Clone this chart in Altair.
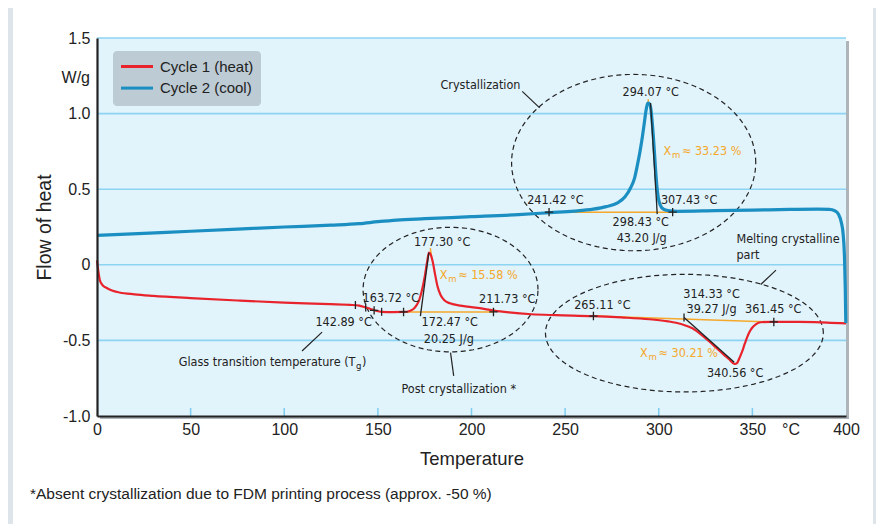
import altair as alt
import numpy as np
import pandas as pd

# ---------------- data ----------------
series_names = ["Cycle 1 (heat)", "Cycle 2 (cool)"]

heat_T = [0, 0.8, 1.6, 3, 5, 8, 12, 20, 30, 50, 75, 100, 120, 135, 140, 143, 146, 149, 152, 158,
          164, 167, 169, 170.5, 172, 173.5, 175, 176.3, 177.3, 178.3, 179.3, 180.5, 181.8, 183.5,
          185.5, 188.5, 193, 200, 206, 212, 220, 232, 245, 265, 280, 295, 305, 312, 318, 322.5,
          327, 331.4, 335, 337.6, 339.5, 340.6, 341.8, 343, 344.5, 346, 348.3, 350, 352, 354.5,
          360, 375, 390, 400]
heat_V = [0.03, -0.05, -0.105, -0.135, -0.152, -0.17, -0.183, -0.195, -0.205, -0.22, -0.236, -0.25,
          -0.258, -0.265, -0.27, -0.28, -0.292, -0.304, -0.311, -0.313, -0.312, -0.305, -0.292, -0.27,
          -0.235, -0.17, -0.08, 0.02, 0.08, 0.065, 0.02, -0.06, -0.14, -0.2, -0.235, -0.255, -0.268,
          -0.28, -0.29, -0.303, -0.315, -0.327, -0.333, -0.339, -0.348, -0.36, -0.374, -0.392, -0.42,
          -0.46, -0.507, -0.557, -0.597, -0.625, -0.648, -0.656, -0.65, -0.62, -0.575, -0.52, -0.448,
          -0.415, -0.392, -0.38, -0.377, -0.378, -0.382, -0.388]

cool_T = [0, 25, 50, 75, 100, 125, 140, 150, 160, 175, 200, 225, 242, 255, 265, 272, 278, 282, 285,
          287, 288.6, 290, 291.3, 292.3, 293.2, 294.1, 295, 295.8, 296.6, 297.5, 298.3, 299, 299.8,
          300.8, 302.5, 305, 310, 330, 350, 370, 385, 391, 394, 396, 397.5, 398.5, 399.2, 399.6, 399.9]
cool_V = [0.194, 0.208, 0.222, 0.236, 0.25, 0.262, 0.272, 0.285, 0.296, 0.305, 0.318, 0.332, 0.345,
          0.355, 0.368, 0.385, 0.41, 0.45, 0.51, 0.57, 0.66, 0.75, 0.85, 0.94, 1.02, 1.07, 1.065, 1.03,
          0.93, 0.78, 0.63, 0.52, 0.44, 0.395, 0.368, 0.358, 0.354, 0.358, 0.362, 0.366, 0.368, 0.366,
          0.358, 0.335, 0.28, 0.2, 0.05, -0.15, -0.385]

x_ticks = [0, 50, 100, 150, 200, 250, 300, 350, 400]
y_ticks = [-1.0, -0.5, 0, 0.5, 1.0, 1.5]
grid_V = [1.5, 1.0, 0.5, 0, -0.5]
inner_tick_T = [50, 100, 150, 200, 250, 300, 350]

# annotation ellipses: centre T, centre V, radius T, radius V
ell_cT = [286.6, 188.8, 313.7]
ell_cV = [0.676, -0.164, -0.452]
ell_rT = [65.2, 46.7, 74.2]
ell_rV = [0.583, 0.412, 0.389]

# orange baselines
base_T1 = [241.42, 163.72, 265.11, 294.4, 178.0]
base_V1 = [0.348, -0.312, -0.339, 1.05, 0.11]
base_T2 = [307.43, 211.73, 361.45, 294.4, 178.6]
base_V2 = [0.348, -0.312, -0.378, 1.095, 0.06]

# black tangents
tan_T1 = [295.6, 172.7, 313.5]
tan_V1 = [1.07, -0.34, -0.349]
tan_T2 = [299.2, 177.2, 340.3]
tan_V2 = [0.335, 0.08, -0.645]

# leader lines
lead_T1 = [227.1, 188.8, 109.5, 362.6]
lead_V1 = [1.147, -0.581, -0.57, -0.035]
lead_T2 = [236.4, 190.5, 120.2, 354.5]
lead_V2 = [1.038, -0.735, -0.445, -0.13]

# "+" markers and "|" markers
cross_T = [241.42, 307.43, 163.72, 211.73, 265.11, 361.45, 148.0]
cross_V = [0.348, 0.348, -0.312, -0.312, -0.339, -0.378, -0.301]
vtick_T = [138.0, 143.5, 152.0, 313.5]
vtick_V = [-0.266, -0.282, -0.311, -0.349]

# centred black labels
lab_text = ["Crystallization", "294.07 °C", "241.42 °C", "307.43 °C", "298.43 °C", "43.20 J/g",
            "177.30 °C", "163.72 °C", "211.73 °C", "142.89 °C", "172.47 °C", "20.25 J/g",
            "Post crystallization *", "265.11 °C", "314.33 °C", "39.27 J/g", "361.45 °C", "340.56 °C"]
lab_T = [204.8, 295.7, 244.8, 316.2, 290.4, 290.9, 184.3, 156.9, 219.1, 131.7, 188.4, 187.9,
         193.2, 269.9, 328.2, 328.2, 361.1, 340.8]
lab_V = [1.191, 1.143, 0.427, 0.427, 0.28, 0.178, 0.15, -0.217, -0.224, -0.378, -0.378, -0.488,
         -0.823, -0.268, -0.191, -0.295, -0.295, -0.717]

# left aligned labels
llab_text = ["Melting crystalline", "part"]
llab_T = [341.5, 341.5]
llab_V = [0.168, 0.064]

# glass transition label (with subscript g)
glass_text = ["Glass transition temperature  (T"]
glass_T = [138.0]
glass_V = [-0.643]

# crystallinity labels X_m ≈ ...
xm_text = ["≈ 33.23 %", "≈ 15.58 %", "≈ 30.21 %"]
xm_T = [302.5, 183.0, 290.0]
xm_V = [0.751, -0.07, -0.585]

footnote = "*Absent crystallization due to FDM printing process (approx. -50 %)"

# ---------------- styling ----------------
RED = "#e8232c"
BLUE = "#1b8fc2"
ORANGE = "#f5a82a"
INK = "#222222"
GRID = "#8dd3f3"
PLOTBG = "#e1f3fb"
FONT = "Liberation Sans, Arial, sans-serif"
NFONT = "DejaVu Sans Condensed, Liberation Sans Narrow, sans-serif"
NSIZE = 12.5
W, H = 749, 378

xs = alt.Scale(domain=[0, 400], nice=False, zero=False)
ys = alt.Scale(domain=[-1.0, 1.5], nice=False, zero=False)

x_axis = alt.Axis(values=x_ticks, title="Temperature", ticks=False, grid=False,
                  labelFont=FONT, labelFontSize=16, labelColor=INK, labelPadding=5,
                  labelFlush=False, labelOverlap=False,
                  domainColor=INK, domainWidth=2.2,
                  titleFont=FONT, titleFontSize=18.5, titleFontWeight="normal", titleColor=INK,
                  titlePadding=12, zindex=1)
y_axis = alt.Axis(values=y_ticks, title="Flow of heat", ticks=False, grid=False,
                  labelExpr="datum.value == 0 ? '0' : (datum.value < 0 ? '-' : '') + format(abs(datum.value), '.1f')",
                  labelFont=FONT, labelFontSize=16, labelColor=INK, labelPadding=7,
                  labelOverlap=False, labelFlush=False,
                  domainColor=INK, domainWidth=2.2,
                  titleFont=FONT, titleFontSize=19.5, titleFontWeight="normal", titleColor=INK,
                  titlePadding=8, zindex=1)


def X(f):
    return alt.X(f, type="quantitative", scale=xs, axis=x_axis)


def Y(f):
    return alt.Y(f, type="quantitative", scale=ys, axis=y_axis)


one = pd.DataFrame({"a": [0]})

# frame bands and plot shadow / background
frame = [
    alt.Chart(one).mark_rect(color="#dde4ea").encode(
        x=alt.value(-89), x2=alt.value(-84), y=alt.value(-30), y2=alt.value(H + 108)),
    alt.Chart(one).mark_rect(color="#dde4ea").encode(
        x=alt.value(W + 27), x2=alt.value(W + 30), y=alt.value(-30), y2=alt.value(H + 108)),
]
shadow = alt.Chart(one).mark_rect(color="#aeb5ba").encode(
    x=alt.value(3), x2=alt.value(W + 3), y=alt.value(3), y2=alt.value(H + 3))
plotbg = alt.Chart(one).mark_rect(color=PLOTBG).encode(
    x=alt.value(0), x2=alt.value(W), y=alt.value(0), y2=alt.value(H))

grid = alt.Chart(pd.DataFrame({"V": grid_V})).mark_rule(color=GRID, strokeWidth=1.6).encode(
    y=Y("V"))
inner_ticks = alt.Chart(pd.DataFrame({"T": inner_tick_T})).mark_rule(
    color="#7ccdf0", strokeWidth=1.5).encode(
    x=X("T"), y=alt.value(H - 8), y2=alt.value(H))

# ellipses
ell_rows = []
theta = np.linspace(0, 2 * np.pi, 145)
for k in range(len(ell_cT)):
    for i, t in enumerate(theta):
        ell_rows.append({"e": k, "i": i,
                         "T": ell_cT[k] + ell_rT[k] * np.cos(t),
                         "V": ell_cV[k] + ell_rV[k] * np.sin(t)})
ellipses = alt.Chart(pd.DataFrame(ell_rows)).mark_line(
    color=INK, strokeWidth=1.2, strokeDash=[5, 3.5]).encode(
    x=X("T"), y=Y("V"), detail="e:N", order="i:Q")

baselines = alt.Chart(pd.DataFrame({"x1": base_T1, "y1": base_V1, "x2": base_T2, "y2": base_V2})
                      ).mark_rule(color=ORANGE, strokeWidth=1.5).encode(
    x=X("x1"), y=Y("y1"), x2="x2:Q", y2="y2:Q")

# the two DSC curves
curves_df = pd.concat([
    pd.DataFrame({"T": heat_T, "V": heat_V, "series": series_names[0]}),
    pd.DataFrame({"T": cool_T, "V": cool_V, "series": series_names[1]}),
])
curves = alt.Chart(curves_df).mark_line(interpolate="monotone").encode(
    x=X("T"), y=Y("V"),
    color=alt.Color("series:N", scale=alt.Scale(domain=series_names, range=[RED, BLUE]), legend=None),
    strokeWidth=alt.StrokeWidth("series:N", scale=alt.Scale(domain=series_names, range=[2.2, 3.2]),
                                legend=None),
)

tangents = alt.Chart(pd.DataFrame({"x1": tan_T1, "y1": tan_V1, "x2": tan_T2, "y2": tan_V2})
                     ).mark_rule(color=INK, strokeWidth=1.3).encode(
    x=X("x1"), y=Y("y1"), x2="x2:Q", y2="y2:Q")
leaders = alt.Chart(pd.DataFrame({"x1": lead_T1, "y1": lead_V1, "x2": lead_T2, "y2": lead_V2})
                    ).mark_rule(color=INK, strokeWidth=1.2).encode(
    x=X("x1"), y=Y("y1"), x2="x2:Q", y2="y2:Q")

crosses = alt.Chart(pd.DataFrame({"T": cross_T, "V": cross_V})).mark_point(
    shape="M-1,0L1,0M0,-1L0,1", size=70, filled=False, color=INK, strokeWidth=1.3, opacity=1).encode(
    x=X("T"), y=Y("V"))
vticks = alt.Chart(pd.DataFrame({"T": vtick_T, "V": vtick_V})).mark_point(
    shape="M0,-1L0,1", size=64, filled=False, color=INK, strokeWidth=1.3, opacity=1).encode(
    x=X("T"), y=Y("V"))

labels = alt.Chart(pd.DataFrame({"T": lab_T, "V": lab_V, "t": lab_text})).mark_text(
    font=NFONT, fontSize=NSIZE, color=INK, align="center", baseline="middle").encode(
    x=X("T"), y=Y("V"), text="t:N")
llabels = alt.Chart(pd.DataFrame({"T": llab_T, "V": llab_V, "t": llab_text})).mark_text(
    font=NFONT, fontSize=NSIZE, color=INK, align="left", baseline="middle").encode(
    x=X("T"), y=Y("V"), text="t:N")

glass_df = pd.DataFrame({"T": glass_T, "V": glass_V, "t": glass_text})
glass = [
    alt.Chart(glass_df).mark_text(font=NFONT, fontSize=NSIZE, color=INK, align="right",
                                  baseline="middle").encode(x=X("T"), y=Y("V"), text="t:N"),
    alt.Chart(glass_df).mark_text(font=NFONT, fontSize=9.5, color=INK, align="left",
                                  baseline="middle", dx=0.5, dy=4).encode(
        x=X("T"), y=Y("V"), text=alt.value("g")),
    alt.Chart(glass_df).mark_text(font=NFONT, fontSize=NSIZE, color=INK, align="left",
                                  baseline="middle", dx=6.5).encode(
        x=X("T"), y=Y("V"), text=alt.value(")")),
]

xm_df = pd.DataFrame({"T": xm_T, "V": xm_V, "t": xm_text})
xm = [
    alt.Chart(xm_df).mark_text(font=NFONT, fontSize=NSIZE, color=ORANGE, align="left",
                               baseline="middle").encode(x=X("T"), y=Y("V"), text=alt.value("X")),
    alt.Chart(xm_df).mark_text(font=NFONT, fontSize=9.5, color=ORANGE, align="left",
                               baseline="middle", dx=8.5, dy=4).encode(
        x=X("T"), y=Y("V"), text=alt.value("m")),
    alt.Chart(xm_df).mark_text(font=NFONT, fontSize=NSIZE, color=ORANGE, align="left",
                               baseline="middle", dx=18.5).encode(x=X("T"), y=Y("V"), text="t:N"),
]

# legend (drawn as a box inside the plot)
legend_layers = [alt.Chart(one).mark_rect(color="#bccbd4", cornerRadius=4).encode(
    x=alt.value(16), x2=alt.value(164), y=alt.value(13), y2=alt.value(68))]
leg_colors = [RED, BLUE]
for i, name in enumerate(series_names):
    yy = 28.5 + 21.6 * i
    legend_layers.append(alt.Chart(one).mark_rule(color=leg_colors[i], strokeWidth=3).encode(
        x=alt.value(24), x2=alt.value(56), y=alt.value(yy)))
    legend_layers.append(alt.Chart(one).mark_text(
        font=FONT, fontSize=15, color=INK, align="left", baseline="middle").encode(
        x=alt.value(63), y=alt.value(yy), text=alt.value(name)))

extras = [
    alt.Chart(one).mark_text(font=FONT, fontSize=16, color=INK, align="right", baseline="middle").encode(
        x=alt.value(-7), y=alt.value(40), text=alt.value("W/g")),
    alt.Chart(one).mark_text(font=FONT, fontSize=16, color=INK, align="center", baseline="middle").encode(
        x=alt.value(694), y=alt.value(H + 14), text=alt.value("°C")),
    alt.Chart(one).mark_text(font=FONT, fontSize=15.5, color=INK, align="left", baseline="middle").encode(
        x=alt.value(-67), y=alt.value(456), text=alt.value(footnote)),
]

chart = alt.layer(
    *frame, shadow, plotbg, grid, inner_ticks, ellipses, baselines, curves, tangents,
    crosses, vticks, leaders, labels, llabels, *glass, *xm, *legend_layers, *extras
).properties(
    width=W, height=H,
    autosize=alt.AutoSizeParams(type="none"),
    padding={"left": 89, "top": 30, "right": 30, "bottom": 108},
    background="white",
).configure_view(strokeWidth=0)

chart.save("out.html", embed_options={"renderer": "svg", "actions": False})
